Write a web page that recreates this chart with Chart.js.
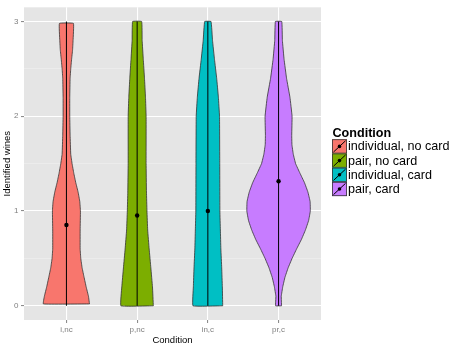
<!DOCTYPE html>
<html>
<head>
<meta charset="utf-8">
<script src="https://cdn.jsdelivr.net/npm/chart.js@4/dist/chart.umd.min.js"></script>
<style>
  html, body { margin: 0; padding: 0; background: #fff; }
  canvas { display: block; }
</style>
</head>
<body>
<canvas id="violin" width="453" height="346"></canvas>
<script>
var categories = ["i,nc", "p,nc", "in,c", "pr,c"];
var conditions = ["individual, no card", "pair, no card", "individual, card", "pair, card"];
var colors = ["#F8766D", "#7CAE00", "#00BFC4", "#C77CFF"];
var means = [0.853, 0.953, 1.0, 1.315];
var rangeLow = [0, 0, 0, 0];
var rangeHigh = [3, 3, 3, 3];
var yTicks = [0, 0.5, 1, 1.5, 2, 2.5, 3];

// violin outlines: heights and half widths (in category units)
var incY = [0.02, 0.1, 0.2, 0.3, 0.4, 0.5, 0.6, 0.8, 1.0, 1.1, 1.2, 1.3, 1.4, 1.5, 1.6, 1.8, 2.0, 2.2, 2.4, 2.5, 2.6, 2.7, 2.8, 2.98];
var incW = [0.326, 0.312, 0.279, 0.25, 0.222, 0.203, 0.194, 0.194, 0.198, 0.189, 0.165, 0.132, 0.104, 0.08, 0.061, 0.052, 0.047, 0.047, 0.052, 0.061, 0.073, 0.087, 0.094, 0.099];
var pncY = [0, 0.2, 0.4, 0.6, 0.8, 1.0, 1.2, 1.5, 2.0, 2.2, 2.4, 2.6, 2.8, 3.0];
var pncW = [0.229, 0.217, 0.194, 0.17, 0.149, 0.139, 0.132, 0.127, 0.127, 0.118, 0.104, 0.087, 0.071, 0.064];
var icY = [0, 0.2, 0.4, 0.6, 0.8, 1.0, 1.5, 2.0, 2.2, 2.4, 2.6, 2.8, 3.0];
var icW = [0.21, 0.205, 0.196, 0.184, 0.177, 0.17, 0.168, 0.165, 0.149, 0.125, 0.094, 0.066, 0.045];
var prcY = [0, 0.1, 0.2, 0.3, 0.4, 0.5, 0.6, 0.7, 0.8, 0.9, 1.0, 1.1, 1.2, 1.3, 1.4, 1.5, 1.6, 1.7, 1.8, 2.0, 2.2, 2.4, 2.6, 2.8, 3.0];
var prcW = [0.042, 0.038, 0.059, 0.09, 0.135, 0.191, 0.255, 0.323, 0.38, 0.425, 0.449, 0.446, 0.415, 0.366, 0.302, 0.241, 0.208, 0.189, 0.186, 0.191, 0.161, 0.113, 0.078, 0.054, 0.045];

var profiles = [[incY, incW], [pncY, pncW], [icY, icW], [prcY, prcW]];

function outline(center, ys, ws) {
  var pts = [];
  for (var i = 0; i < ys.length; i++) pts.push({ x: center + ws[i], y: ys[i] });
  for (var j = ys.length - 1; j >= 0; j--) pts.push({ x: center - ws[j], y: ys[j] });
  pts.push(pts[0]);
  return pts;
}

var datasets = [];
profiles.forEach(function (p, i) {
  datasets.push({
    label: conditions[i],
    data: outline(i + 1, p[0], p[1]),
    showLine: true,
    fill: "shape",
    backgroundColor: colors[i],
    borderColor: "#333333",
    borderWidth: 0.8,
    pointRadius: 0,
    tension: 0.08, // non-zero so Chart.js doesn't use its x-sorted fast path
    order: 2
  });
  datasets.push({
    data: [{ x: i + 1, y: rangeLow[i] }, { x: i + 1, y: rangeHigh[i] }],
    showLine: true,
    borderColor: "#000000",
    borderWidth: 1,
    pointRadius: 0,
    order: 1
  });
});
datasets.push({
  data: means.map(function (m, i) { return { x: i + 1, y: m }; }),
  backgroundColor: "#000000",
  borderWidth: 0,
  pointRadius: 2.2,
  order: 0
});

var panelBg = {
  id: "panelBg",
  beforeDraw: function (chart) {
    var a = chart.chartArea, c = chart.ctx;
    c.save();
    c.fillStyle = "#E5E5E5";
    c.fillRect(a.left, a.top, a.right - a.left, a.bottom - a.top);
    c.restore();
  }
};

var ggLegend = {
  id: "ggLegend",
  afterDraw: function (chart) {
    var c = chart.ctx;
    var x = 332, y0 = 139.3, kw = 15, kh = 14.2;
    c.save();
    c.fillStyle = "#000";
    c.font = "bold 12.6px 'Liberation Sans', Arial, sans-serif";
    c.textBaseline = "alphabetic";
    c.fillText("Condition", x + 0.5, 136.6);
    c.font = "12.6px 'Liberation Sans', Arial, sans-serif";
    c.textBaseline = "middle";
    conditions.forEach(function (name, i) {
      var y = y0 + i * kh;
      c.fillStyle = colors[i];
      c.fillRect(x, y, kw, kh);
      c.strokeStyle = "#333333";
      c.lineWidth = 0.8;
      c.strokeRect(x + 0.4, y + 0.4, kw - 0.8, kh - 0.8);
      c.strokeStyle = "#000";
      c.lineWidth = 1;
      c.beginPath();
      c.moveTo(x + 1.5, y + kh - 1.5);
      c.lineTo(x + kw - 1.5, y + 1.5);
      c.stroke();
      c.fillStyle = "#000";
      c.beginPath();
      c.arc(x + kw / 2, y + kh / 2, 1.8, 0, Math.PI * 2);
      c.fill();
      c.fillText(name, x + kw + 1, y + kh / 2 + 0.5);
    });
    c.restore();
  }
};

new Chart(document.getElementById("violin"), {
  type: "scatter",
  data: { datasets: datasets },
  options: {
    responsive: false,
    animation: false,
    layout: { padding: { left: 0, top: 4, right: 132, bottom: 0 } },
    plugins: { legend: { display: false }, tooltip: { enabled: false } },
    scales: {
      x: {
        type: "linear",
        min: 0.4,
        max: 4.6,
        afterBuildTicks: function (scale) {
          scale.ticks = categories.map(function (c, i) { return { value: i + 1 }; });
        },
        afterFit: function (scale) { scale.height = 26; },
        border: { display: false },
        grid: { color: "#FFFFFF", lineWidth: 1.1, tickLength: 3, tickColor: "#8C8C8C" },
        ticks: {
          autoSkip: false,
          maxRotation: 0,
          padding: 2,
          color: "#7F7F7F",
          font: { family: "'Liberation Sans', Arial, sans-serif", size: 8 },
          callback: function (v) { return categories[v - 1]; }
        },
        title: {
          display: true,
          text: "Condition",
          color: "#000",
          padding: 0,
          font: { family: "'Liberation Sans', Arial, sans-serif", size: 9.5 }
        }
      },
      y: {
        min: -0.15,
        max: 3.15,
        afterBuildTicks: function (scale) {
          scale.ticks = yTicks.map(function (v) { return { value: v }; });
        },
        afterFit: function (scale) { scale.width = 24; },
        border: { display: false },
        grid: {
          color: function (ctx) { return ctx.tick && ctx.tick.value % 1 === 0 ? "#FFFFFF" : "#F2F2F2"; },
          lineWidth: function (ctx) { return ctx.tick && ctx.tick.value % 1 === 0 ? 1.1 : 0.55; },
          tickLength: 3,
          tickColor: function (ctx) { return ctx.tick && ctx.tick.value % 1 === 0 ? "#8C8C8C" : "rgba(0,0,0,0)"; }
        },
        ticks: {
          padding: 2.5,
          color: "#7F7F7F",
          font: { family: "'Liberation Sans', Arial, sans-serif", size: 8 },
          callback: function (v) { return v % 1 === 0 ? String(v) : ""; }
        },
        title: {
          display: true,
          text: "Identified wines",
          color: "#000",
          padding: { top: 1.5, bottom: 0 },
          font: { family: "'Liberation Sans', Arial, sans-serif", size: 9.5 }
        }
      }
    }
  },
  plugins: [panelBg, ggLegend]
});
</script>
</body>
</html>
